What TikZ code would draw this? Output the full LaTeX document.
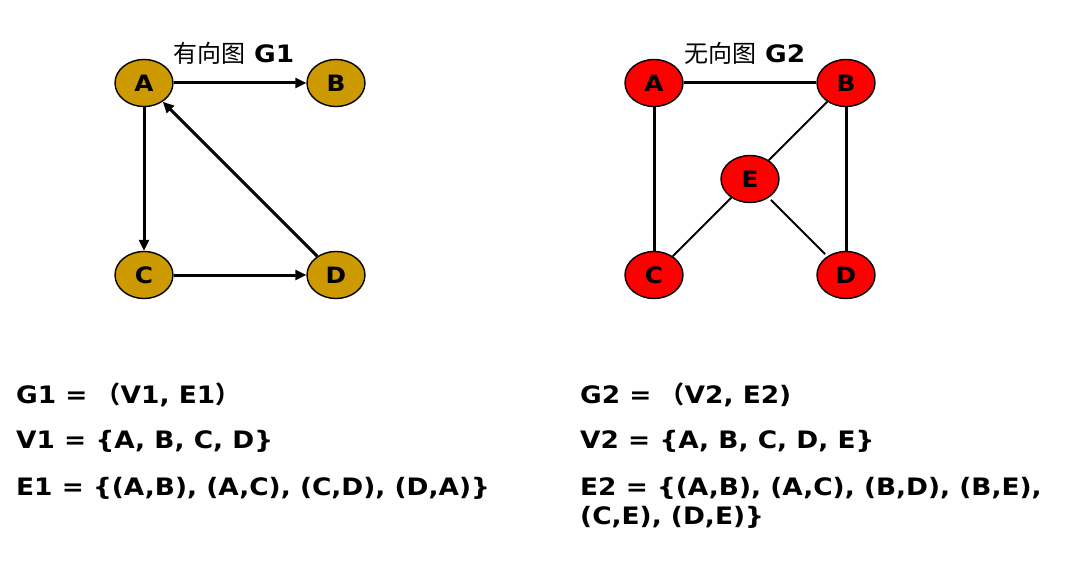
\documentclass[tikz,border=0pt]{standalone}
\usepackage{fontspec}
\setmainfont{DejaVu Sans}[FakeStretch=1.1]
\newfontfamily\cjk{Noto Sans CJK SC}
\usetikzlibrary{shapes.geometric,arrows.meta}
\definecolor{gold}{HTML}{CC9900}
\definecolor{vred}{HTML}{FF0000}
\tikzset{
  vtx/.style={ellipse, draw=black, line width=1.4pt, minimum width=58pt, minimum height=47pt, inner sep=0pt,
    font=\fontsize{22.5}{24}\selectfont\bfseries},
  gv/.style={vtx, fill=gold},
  rv/.style={vtx, fill=vred},
  arr/.style={line width=3pt, -{Triangle[length=11pt,width=10pt]}},
  thick edge/.style={line width=3pt},
  thin edge/.style={line width=2pt},
  ttl/.style={font=\fontsize{24}{26}\selectfont},
  eq/.style={anchor=west, inner sep=0pt, font=\fontsize{24}{26}\selectfont\bfseries}
}
\begin{document}
\begin{tikzpicture}[x=1pt,y=-1pt]
\useasboundingbox (0,0) rectangle (1068,564);
% G1
\node[ttl] (t1) at (234,53) {{\cjk 有向图} \textbf{G1}};
\node[gv] (A1) at (144,83) {A};
\node[gv] (B1) at (336,83) {B};
\node[gv] (C1) at (144,275) {C};
\node[gv] (D1) at (336,275) {D};
\draw[arr] (A1) -- (B1);
\draw[arr] (A1) -- (C1);
\draw[arr] (C1) -- (D1);
\draw[arr] (D1) -- (A1);
% G2
\node[ttl] (t2) at (745,53) {{\cjk 无向图} \textbf{G2}};
\node[rv] (A2) at (654,83) {A};
\node[rv] (B2) at (846,83) {B};
\node[rv] (C2) at (654,275) {C};
\node[rv] (D2) at (846,275) {D};
\node[rv] (E2) at (750,179) {E};
\draw[thick edge] (A2) -- (B2);
\draw[thick edge] (A2) -- (C2);
\draw[thick edge] (B2) -- (D2);
\draw[thin edge] (B2) -- (E2);
\draw[thin edge] (C2) -- (E2);
\draw[thin edge, shorten <=3pt, shorten >=3pt] (E2) -- (D2);
% equations
\node[eq] (l1) at (16,395) {G1 = {\cjk （}V1, E1{\cjk ）}};
\node[eq] (l2) at (16,441) {V1 = \{A, B, C, D\}};
\node[eq] (l3) at (16,488) {E1 = \{(A,B), (A,C), (C,D), (D,A)\}};
\node[eq] (r1) at (580,395) {G2 = {\cjk （}V2, E2)};
\node[eq] (r2) at (580,441) {V2 = \{A, B, C, D, E\}};
\node[eq] (r3) at (580,488) {E2 = \{(A,B), (A,C), (B,D), (B,E),};
\node[eq] (r4) at (580,517) {(C,E), (D,E)\}};
\end{tikzpicture}
\end{document}
